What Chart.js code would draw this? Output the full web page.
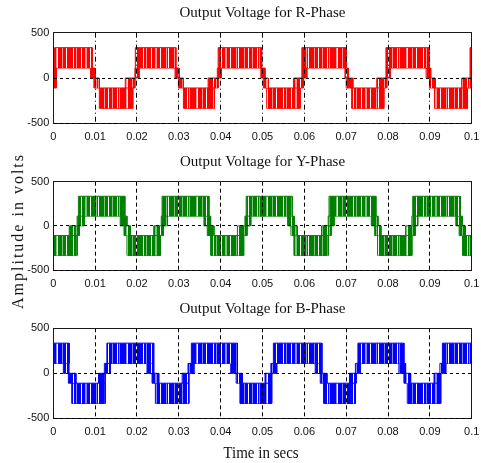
<!DOCTYPE html>
<html><head><meta charset="utf-8">
<script src="https://cdn.jsdelivr.net/npm/chart.js@4/dist/chart.umd.min.js"></script>
<style>
html,body{margin:0;padding:0;background:#fff;}
body{width:481px;height:463px;position:relative;overflow:hidden;}
.wrap{position:absolute;left:0;width:481px;height:150px;}
#ylab{position:absolute;left:18px;top:231px;transform:translate(-50%,-50%) rotate(-90deg) scaleY(1.1);font:16px "Liberation Serif";letter-spacing:2px;white-space:nowrap;color:#111;}
#xlab{position:absolute;left:261px;top:453px;transform:translate(-50%,-50%) scaleY(1.15);font:15px "Liberation Serif";white-space:nowrap;color:#111;}
</style></head><body>
<div class="wrap" style="top:0px"><canvas id="c1" width="481" height="150"></canvas></div>
<div class="wrap" style="top:149px"><canvas id="c2" width="481" height="150"></canvas></div>
<div class="wrap" style="top:296px"><canvas id="c3" width="481" height="150"></canvas></div>
<div id="ylab">Amplitude in volts</div>
<div id="xlab">Time in secs</div>
<script>
// ---- data ----
const titles = ['Output Voltage for R-Phase','Output Voltage for Y-Phase','Output Voltage for B-Phase'];
const xTickLabels = ['0','0.01','0.02','0.03','0.04','0.05','0.06','0.07','0.08','0.09','0.1'];
const yTickLabels = ['-500','0','500'];

// R-phase: switching bands [start, end] in s, levels low..high in V
const rStart = [0.0000,0.0003,0.0089,0.0097,0.0110,0.0172,0.0195,0.0196,0.0291,0.0299,0.0311,0.0370,0.0392,0.0394,0.0496,0.0502,0.0510,0.0574,0.0594,0.0594,0.0697,0.0700,0.0713,0.0773,0.0795,0.0795,0.0891,0.0899,0.0911,0.0976,0.0996];
const rEnd   = [0.0007,0.0093,0.0100,0.0110,0.0190,0.0195,0.0205,0.0293,0.0301,0.0311,0.0385,0.0394,0.0402,0.0498,0.0506,0.0514,0.0590,0.0598,0.0606,0.0700,0.0705,0.0716,0.0790,0.0797,0.0805,0.0898,0.0902,0.0913,0.0990,0.0997,0.1000];
const rLow   = [-110,110,0,-110,-335,-110,0,110,0,-110,-335,-110,0,110,0,-110,-335,-110,0,110,0,-110,-335,-110,0,110,0,-110,-335,-110,-110];
const rHigh  = [110,335,110,0,-110,0,110,335,110,0,-110,0,110,335,110,0,-110,0,110,335,110,0,-110,0,110,335,110,0,-110,0,335];

// Y-phase
const yStart = [0.0000,0.0038,0.0057,0.0060,0.0160,0.0169,0.0176,0.0240,0.0258,0.0260,0.0360,0.0368,0.0376,0.0440,0.0458,0.0461,0.0560,0.0568,0.0575,0.0641,0.0657,0.0659,0.0760,0.0768,0.0775,0.0842,0.0857,0.0859,0.0962,0.0970,0.0978];
const yEnd   = [0.0057,0.0062,0.0074,0.0171,0.0176,0.0184,0.0256,0.0263,0.0273,0.0372,0.0376,0.0384,0.0455,0.0463,0.0472,0.0571,0.0576,0.0583,0.0657,0.0664,0.0671,0.0771,0.0776,0.0783,0.0857,0.0865,0.0871,0.0973,0.0978,0.0985,0.1000];
const yLow   = [-335,-110,0,110,0,-110,-335,-110,0,110,0,-110,-335,-110,0,110,0,-110,-335,-110,0,110,0,-110,-335,-110,0,110,0,-110,-335];
const yHigh  = [-110,0,110,335,110,0,-110,0,110,335,110,0,-110,0,110,335,110,0,-110,0,110,335,110,0,-110,0,110,335,110,0,-110];

// B-phase
const bStart = [0.0000,0.0024,0.0036,0.0044,0.0108,0.0122,0.0128,0.0224,0.0236,0.0244,0.0308,0.0322,0.0330,0.0424,0.0437,0.0446,0.0506,0.0520,0.0526,0.0626,0.0638,0.0646,0.0708,0.0722,0.0728,0.0826,0.0838,0.0846,0.0910,0.0924,0.0930];
const bEnd   = [0.0038,0.0037,0.0054,0.0124,0.0124,0.0136,0.0240,0.0240,0.0252,0.0324,0.0324,0.0336,0.0440,0.0440,0.0452,0.0522,0.0522,0.0534,0.0642,0.0642,0.0654,0.0722,0.0724,0.0734,0.0838,0.0842,0.0854,0.0926,0.0926,0.0938,0.1000];
const bLow   = [110,0,-110,-335,-110,0,110,0,-110,-335,-110,0,110,0,-110,-335,-110,0,110,0,-110,-335,-110,0,110,0,-110,-335,-110,0,110];
const bHigh  = [335,110,0,-110,0,110,335,110,0,-110,0,110,335,110,0,-110,0,110,335,110,0,-110,0,110,335,110,0,-110,0,110,335];

// ---- styling ----
const STRIPES = 'SSSWSSLSSSSWSSSLLSSSWSSSSSLSWSSSSSLSSSWSSSLSSSSWSLSSSSSSLWSSSSLSSSWSSS';
function stripePattern(solid, light){
  const c = document.createElement('canvas');
  c.width = STRIPES.length; c.height = 4;
  const g = c.getContext('2d');
  for (let i = 0; i < STRIPES.length; i++){
    const k = STRIPES[i];
    g.fillStyle = k === 'S' ? solid : (k === 'L' ? light : '#ffffff');
    g.fillRect(i, 0, 1, 4);
  }
  return g.createPattern(c, 'repeat');
}

function makeChart(id, title, st, en, lo, hi, solid, light, xDash, padBottom, axisH){
  const pat = stripePattern(solid, light);
  const datasets = [];
  for (let i = 0; i < st.length; i++){
    datasets.push({
      data:[{x:st[i],y:lo[i]},{x:st[i],y:hi[i]},{x:en[i],y:hi[i]},{x:en[i],y:lo[i]}],
      borderColor: solid, borderWidth: 1, backgroundColor: pat,
      fill: {value: lo[i]}, pointRadius: 0, tension: 0
    });
    datasets.push({
      data:[{x:st[i],y:lo[i]},{x:en[i],y:lo[i]}],
      borderColor: solid, borderWidth: 1, fill: false, pointRadius: 0
    });
  }
  const frame = '#1a1a1a';
  return new Chart(document.getElementById(id), {
    type: 'line',
    data: {datasets},
    options: {
      responsive: false, animation: false, events: [],
      layout: {padding: {left: 0, right: 9.3, top: 0, bottom: 0}},
      plugins: {
        legend: {display: false}, tooltip: {enabled: false},
        title: {display: true, text: title, fullSize: false, color: '#111',
          font: {family: '"Liberation Serif", "Times New Roman", serif', size: 15, weight: 'normal'},
          padding: {top: 4, bottom: padBottom}}
      },
      scales: {
        x: {type: 'linear', min: 0, max: 0.1,
          afterFit(s){ s.height = axisH; s.paddingLeft = 0; s.paddingRight = 0; },
          ticks: {stepSize: 0.01, autoSkip: false, maxRotation: 0, padding: 7, color: '#111',
            font: {family: '"Liberation Sans", Arial, sans-serif', size: 11},
            callback: (v, i) => xTickLabels[i]},
          grid: {color: '#000', lineWidth: 1, drawTicks: false, z: 1},
          border: {display: true, color: frame, width: 1, dash: xDash, z: 1}},
        y: {type: 'linear', min: -500, max: 500,
          afterFit(s){ s.width = 53.3; s.paddingTop = 0; s.paddingBottom = 0; },
          ticks: {stepSize: 500, padding: 4, color: '#111',
            font: {family: '"Liberation Sans", Arial, sans-serif', size: 11},
            callback: (v, i) => yTickLabels[i]},
          grid: {color: '#000', lineWidth: 1, drawTicks: false, z: 1},
          border: {display: true, color: frame, width: 1, dash: [3,3], z: 1}},
        x2: {type: 'linear', position: 'top', min: 0, max: 0.1,
          afterFit(s){ s.height = 0; s.paddingLeft = 0; s.paddingRight = 0; },
          ticks: {display: false}, grid: {display: false, drawTicks: false},
          border: {display: true, color: frame, width: 1, z: 1}},
        y2: {type: 'linear', position: 'right', min: -500, max: 500,
          afterFit(s){ s.width = 0; s.paddingTop = 0; s.paddingBottom = 0; },
          ticks: {display: false}, grid: {display: false, drawTicks: false},
          border: {display: true, color: frame, width: 1, z: 1}}
      }
    }
  });
}

makeChart('c1', titles[0], rStart, rEnd, rLow, rHigh, '#ff0000', '#ff9a9a', [5,3,1,3], 10.7, 26.7);
makeChart('c2', titles[1], yStart, yEnd, yLow, yHigh, '#008000', '#80c080', [4,3], 10.7, 29);
makeChart('c3', titles[2], bStart, bEnd, bLow, bHigh, '#0000ff', '#8a8aff', [4,3], 10.3, 27.7);
</script>
</body></html>
